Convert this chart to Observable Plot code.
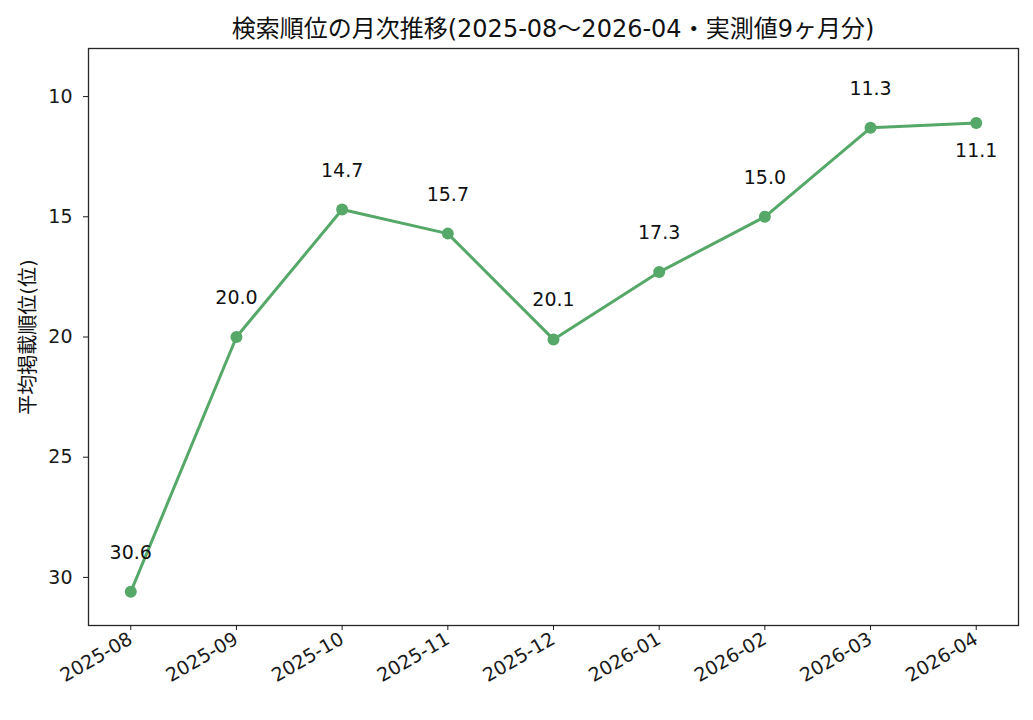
<!DOCTYPE html>
<html>
<head>
<meta charset="utf-8">
<script src="https://cdn.jsdelivr.net/npm/d3@7"></script>
<script src="https://cdn.jsdelivr.net/npm/@observablehq/plot@0.6"></script>
<style>
  html, body { margin: 0; padding: 0; background: #fff; }
  body { width: 1033px; height: 720px; overflow: hidden; font-family: "DejaVu Sans", "Noto Sans CJK JP", sans-serif; }
  #title { height: 40px; width: 1033px; position: relative; }
  #title span { position: absolute; left: 553px; top: 26px; transform: translate(-50%, -50%); font-size: 24px; color: #111; white-space: nowrap; }
</style>
</head>
<body>
<div id="title"><span id="titletext"></span></div>
<div id="chart"></div>
<script>
const months = ["2025-08","2025-09","2025-10","2025-11","2025-12","2026-01","2026-02","2026-03","2026-04"];
const ranks = [30.6, 20.0, 14.7, 15.7, 20.1, 17.3, 15.0, 11.3, 11.1];
const yTicks = [10, 15, 20, 25, 30];
const title = "検索順位の月次推移(2025-08〜2026-04・実測値9ヶ月分)";
const yLabel = "平均掲載順位(位)";

document.getElementById("titletext").textContent = title;

const data = months.map((m, i) => ({month: m, rank: ranks[i], label: ranks[i].toFixed(1)}));
const last = data.length - 1;
const green = "#55a868";
const font = '"DejaVu Sans", "Noto Sans CJK JP", sans-serif';

const chart = Plot.plot({
  width: 1033,
  height: 680,
  marginTop: 8,
  marginBottom: 95,
  marginLeft: 88,
  marginRight: 15,
  style: {fontFamily: font, fontSize: "19px", color: "#1a1a1a", background: "#fff"},
  x: {type: "point", domain: months, padding: 0.4, round: false},
  y: {domain: [8, 32], reverse: true},
  marks: [
    Plot.frame({stroke: "#262626", strokeWidth: 1.3}),
    Plot.axisY({ticks: yTicks, tickSize: 5, tickPadding: 11, tickFormat: d => String(d), fontSize: 19,
      label: null}),
    Plot.axisX({tickSize: 5, tickRotate: -30, tickPadding: 7, fontSize: 19, label: null}),
    Plot.line(data, {x: "month", y: "rank", stroke: green, strokeWidth: 3}),
    Plot.dot(data, {x: "month", y: "rank", fill: green, r: 6}),
    Plot.text(data.filter((d, i) => i !== last), {x: "month", y: "rank", text: "label", dy: -39, fontSize: 19, fill: "#111"}),
    Plot.text(data.filter((d, i) => i === last), {x: "month", y: "rank", text: "label", dy: 28, fontSize: 19, fill: "#111"}),
    Plot.text([yLabel], {frameAnchor: "left", textAnchor: "middle", dx: -60, rotate: -90, fontSize: 20, fill: "#111"})
  ]
});
document.getElementById("chart").appendChild(chart);
</script>
</body>
</html>
